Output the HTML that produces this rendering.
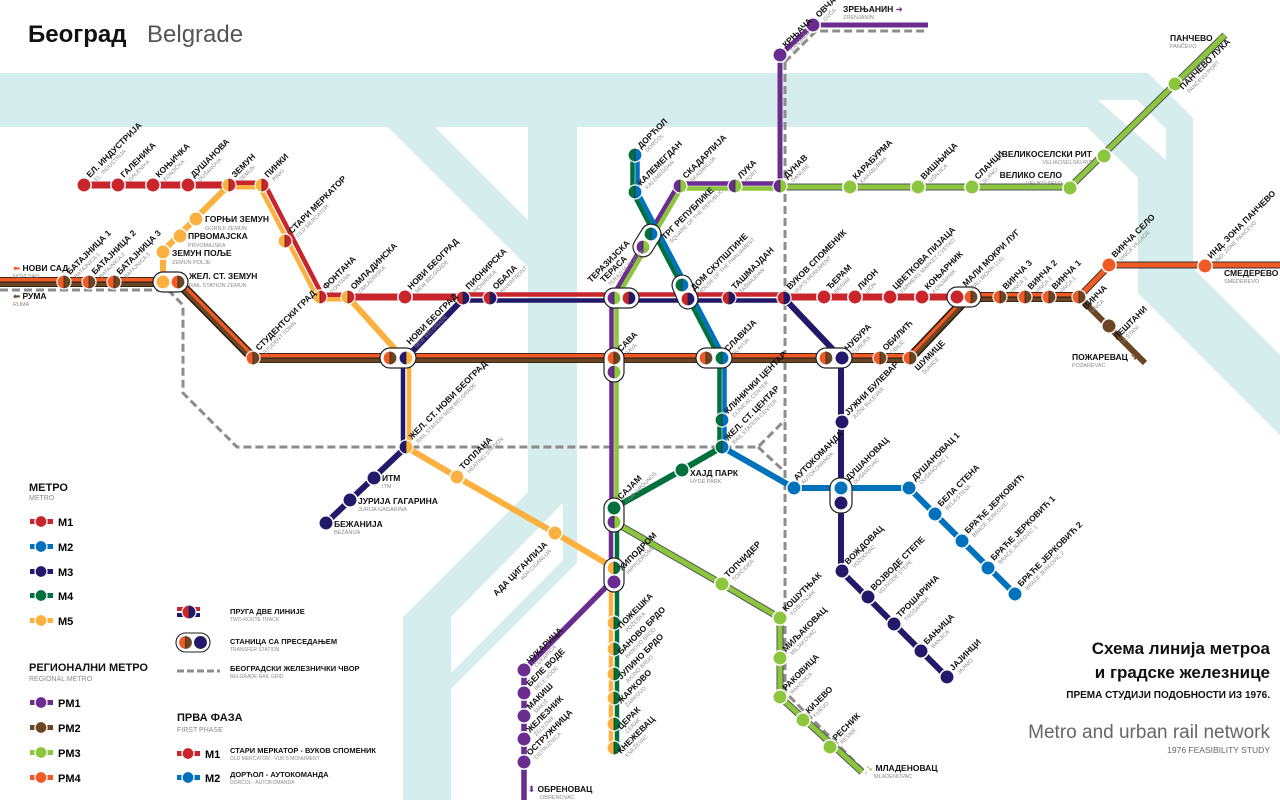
<!DOCTYPE html>
<html><head><meta charset="utf-8">
<style>
html,body{margin:0;padding:0;background:#fff}
svg{display:block}
text{font-family:"Liberation Sans","DejaVu Sans",sans-serif}
.n{font-size:8.5px;font-weight:bold;fill:#111}
.s{font-size:5.5px;fill:#8a8a8a}
.ln{fill:none;stroke-linejoin:round}
</style></head><body>
<svg width="1280" height="800" viewBox="0 0 1280 800" xmlns="http://www.w3.org/2000/svg">
<defs>
<g id="d"><circle r="7.6" fill="#fff"/><path d="M0,-6.4A6.4,6.4 0 0 0 0,6.4Z" style="fill:var(--a)"/><path d="M0,-6.4A6.4,6.4 0 0 1 0,6.4Z" style="fill:var(--b)"/><line y1="-6.4" y2="6.4" stroke="#222" stroke-width=".7"/></g>
<g id="c"><circle r="7.2" style="fill:var(--a)" stroke="#fff" stroke-width="1.5"/></g>
</defs>

<!-- water -->
<g fill="#d5eded">
<polygon points="0,73 1148,73 1193,118 1193,268 1280,355 1280,435 1138,293 1138,178 1087,127 0,127"/>
<polygon points="388,127 435,127 528,220 528,267"/>
<polygon points="528,127 577,127 577,563 451,689 451,800 403,800 403,617 528,492"/>
</g>
<g fill="#fff">
<polygon points="451,617 563,503 563,560 451,673"/>
<polygon points="1098,100 1137,100 1166,129 1166,160"/>
</g>

<!-- title -->
<text x="28" y="42" style="font-size:24px;font-weight:bold;fill:#111">Београд</text>
<text x="147" y="42" style="font-size:24px;fill:#555">Belgrade</text>

<!-- gray rail -->
<g class="ln" stroke="#8c8c8c" stroke-width="3" stroke-dasharray="8,4">
<path d="M0,290H168L183,305V393L237,447H758L785,420"/>
<path d="M758,447L785,472"/>
<path d="M785,62V692L866,773"/>
<path d="M785,62L816,31H928"/>
</g>

<!-- PM2/PM4 -->
<g class="ln">
<path d="M0,282H178L253,358H910L968,297H1079" stroke="#2b1d12" stroke-width="10"/>
<path d="M0,282H178L253,358H910L968,297H1079" transform="translate(0,-2.3)" stroke="#f15a24" stroke-width="3.6"/>
<path d="M0,282H178L253,358H910L968,297H1079" transform="translate(0,2.4)" stroke="#6b4524" stroke-width="3.6"/>
<path d="M1079,297L1110,265H1280" stroke="#333" stroke-width="7"/>
<path d="M1079,297L1110,265H1280" stroke="#f15a24" stroke-width="5"/>
<path d="M1079,297L1145,363" stroke="#6b4524" stroke-width="6"/>
</g>

<!-- PM3 singles -->
<g class="ln">
<path d="M1225,35L1070,187H780" stroke="#555" stroke-width="7"/>
<path d="M1225,35L1070,187H780" stroke="#8cc63e" stroke-width="5"/>
<path d="M614,522L722,584L780,618V697L862,772" stroke="#555" stroke-width="7"/>
<path d="M614,522L722,584L780,618V697L862,772" stroke="#8cc63e" stroke-width="5"/>
</g>

<!-- PM1 -->
<g class="ln" stroke="#6a2c8f">
<path d="M928,25H813L780,55V186" stroke-width="5"/>
<path d="M611,582L524,670V800" stroke-width="5.5"/>
<path d="M611,522V582" stroke-width="4.5"/>
</g>
<!-- PM1+PM3 shared -->
<g class="ln">
<path d="M680,183.5H780" stroke="#6a2c8f" stroke-width="4.5"/>
<path d="M680,188.5H780" stroke="#8cc63e" stroke-width="4.5"/>
<path d="M680,186L614,298V522" transform="translate(-2.5,0)" stroke="#6a2c8f" stroke-width="4.5"/>
<path d="M680,186L614,298V522" transform="translate(2.5,0)" stroke="#8cc63e" stroke-width="4.5"/>
</g>

<!-- M4 / M2 -->
<g class="ln">
<path d="M635,155V192L722,358V447" transform="translate(-2.5,0)" stroke="#00703c" stroke-width="4.5"/>
<path d="M635,155V192L722,358V447" transform="translate(2.5,0)" stroke="#0072bc" stroke-width="4.5"/>
<path d="M722,447L682,470L614,508" stroke="#00703c" stroke-width="6"/>
<path d="M617,508V752" stroke="#00703c" stroke-width="4.5"/>
<path d="M722,447L794,488H909L1015,594" stroke="#0072bc" stroke-width="6"/>
</g>

<!-- M5 -->
<g class="ln" stroke="#fbb040">
<path d="M229,185L163,251V282" stroke-width="6"/>
<path d="M348,297L403,358" stroke-width="6"/>
<path d="M409,358V447" stroke-width="4.5"/>
<path d="M406,447L457,477L555,533L614,568" stroke-width="6"/>
<path d="M611,568V752" stroke-width="4.5"/>
<path d="M229,185H262L320,297H348" transform="translate(-2,2.3)" stroke-width="4.5"/>
</g>

<!-- M3 -->
<g class="ln" stroke="#22196a">
<path d="M462,300L406,358" stroke-width="6"/>
<path d="M403,358V447" stroke-width="4.5"/>
<path d="M406,447L326,523" stroke-width="6"/>
<path d="M462,300.5H784" stroke-width="4.5"/>
<path d="M784,298L841,358V571L947,677" stroke-width="6"/>
</g>

<!-- M1 -->
<g class="ln" stroke="#c8252d">
<path d="M84,185H229" stroke-width="7"/>
<path d="M229,185H262L320,297H348" transform="translate(2,-2.3)" stroke-width="4.5"/>
<path d="M348,297H462" stroke-width="7"/>
<path d="M462,294.5H784" stroke-width="4.5"/>
<path d="M784,297H957" stroke-width="7"/>
</g>

<!-- transfer pills -->
<g fill="#fff" stroke="#222" stroke-width="1.2">
<rect x="153" y="272" width="35" height="20" rx="10"/>
<rect x="380" y="348" width="36" height="20" rx="10"/>
<rect x="604" y="288" width="35" height="20" rx="10"/>
<rect x="604" y="348" width="20" height="34" rx="10"/>
<rect x="696" y="348" width="36" height="20" rx="10"/>
<rect x="816" y="348" width="36" height="20" rx="10"/>
<rect x="947" y="287" width="34" height="20" rx="10"/>
<rect x="604" y="498" width="20" height="34" rx="10"/>
<rect x="604" y="558" width="20" height="34" rx="10"/>
<rect x="830" y="478" width="22" height="35" rx="10"/>
<rect x="629.5" y="230.5" width="35" height="20" rx="10" transform="rotate(122 647 240.5)"/>
<rect x="667.5" y="282" width="35" height="20" rx="10" transform="rotate(67 685 292)"/>
</g>

<!-- stations -->
<g>
<use href="#c" x="84" y="185" style="--a:#c8252d"/>
<use href="#c" x="118" y="185" style="--a:#c8252d"/>
<use href="#c" x="153" y="185" style="--a:#c8252d"/>
<use href="#c" x="188" y="185" style="--a:#c8252d"/>
<use href="#c" x="405" y="297" style="--a:#c8252d"/>
<use href="#c" x="824" y="297" style="--a:#c8252d"/>
<use href="#c" x="855" y="297" style="--a:#c8252d"/>
<use href="#c" x="890" y="297" style="--a:#c8252d"/>
<use href="#c" x="922" y="297" style="--a:#c8252d"/>
<use href="#c" x="957" y="297" style="--a:#c8252d"/>
<use href="#d" x="229" y="185" style="--a:#fbb040;--b:#c8252d"/>
<use href="#d" x="262" y="185" style="--a:#fbb040;--b:#c8252d"/>
<use href="#d" x="285" y="241" style="--a:#fbb040;--b:#c8252d"/>
<use href="#d" x="320" y="297" style="--a:#fbb040;--b:#c8252d"/>
<use href="#d" x="348" y="297" style="--a:#fbb040;--b:#c8252d"/>
<use href="#c" x="196" y="219" style="--a:#fbb040"/>
<use href="#c" x="180" y="236" style="--a:#fbb040"/>
<use href="#c" x="163" y="252" style="--a:#fbb040"/>
<use href="#c" x="163" y="282" style="--a:#fbb040"/>
<use href="#c" x="457" y="477" style="--a:#fbb040"/>
<use href="#c" x="555" y="533" style="--a:#fbb040"/>
<use href="#d" x="463" y="298" style="--a:#c8252d;--b:#22196a"/>
<use href="#d" x="490" y="298" style="--a:#c8252d;--b:#22196a"/>
<use href="#d" x="629" y="298" style="--a:#c8252d;--b:#22196a"/>
<use href="#d" x="688" y="299" style="--a:#c8252d;--b:#22196a"/>
<use href="#d" x="729" y="298" style="--a:#c8252d;--b:#22196a"/>
<use href="#d" x="784" y="298" style="--a:#c8252d;--b:#22196a"/>
<use href="#d" x="614" y="298" style="--a:#6a2c8f;--b:#8cc63e"/>
<use href="#d" x="614" y="372" style="--a:#6a2c8f;--b:#8cc63e"/>
<use href="#d" x="614" y="522" style="--a:#6a2c8f;--b:#8cc63e"/>
<use href="#d" x="643" y="247" style="--a:#6a2c8f;--b:#8cc63e"/>
<use href="#d" x="680" y="186" style="--a:#6a2c8f;--b:#8cc63e"/>
<use href="#d" x="735" y="186" style="--a:#6a2c8f;--b:#8cc63e"/>
<use href="#d" x="780" y="186" style="--a:#6a2c8f;--b:#8cc63e"/>
<use href="#d" x="635" y="155" style="--a:#00703c;--b:#0072bc"/>
<use href="#d" x="635" y="192" style="--a:#00703c;--b:#0072bc"/>
<use href="#d" x="651" y="234" style="--a:#00703c;--b:#0072bc"/>
<use href="#d" x="682" y="285" style="--a:#00703c;--b:#0072bc"/>
<use href="#d" x="722" y="358" style="--a:#00703c;--b:#0072bc"/>
<use href="#d" x="722" y="420" style="--a:#00703c;--b:#0072bc"/>
<use href="#d" x="722" y="447" style="--a:#00703c;--b:#0072bc"/>
<use href="#d" x="64" y="282" style="--a:#f15a24;--b:#6b4524"/>
<use href="#d" x="89" y="282" style="--a:#f15a24;--b:#6b4524"/>
<use href="#d" x="114" y="282" style="--a:#f15a24;--b:#6b4524"/>
<use href="#d" x="178" y="282" style="--a:#f15a24;--b:#6b4524"/>
<use href="#d" x="253" y="358" style="--a:#f15a24;--b:#6b4524"/>
<use href="#d" x="390" y="358" style="--a:#f15a24;--b:#6b4524"/>
<use href="#d" x="614" y="358" style="--a:#f15a24;--b:#6b4524"/>
<use href="#d" x="706" y="358" style="--a:#f15a24;--b:#6b4524"/>
<use href="#d" x="826" y="358" style="--a:#f15a24;--b:#6b4524"/>
<use href="#d" x="880" y="358" style="--a:#f15a24;--b:#6b4524"/>
<use href="#d" x="910" y="358" style="--a:#f15a24;--b:#6b4524"/>
<use href="#d" x="971" y="297" style="--a:#f15a24;--b:#6b4524"/>
<use href="#d" x="1000" y="297" style="--a:#f15a24;--b:#6b4524"/>
<use href="#d" x="1025" y="297" style="--a:#f15a24;--b:#6b4524"/>
<use href="#d" x="1049" y="297" style="--a:#f15a24;--b:#6b4524"/>
<use href="#d" x="1079" y="297" style="--a:#f15a24;--b:#6b4524"/>
<use href="#c" x="1109" y="265" style="--a:#f15a24"/>
<use href="#c" x="1205" y="266" style="--a:#f15a24"/>
<use href="#c" x="1109" y="326" style="--a:#6b4524"/>
<use href="#d" x="406" y="358" style="--a:#22196a;--b:#fbb040"/>
<use href="#d" x="406" y="447" style="--a:#22196a;--b:#fbb040"/>
<use href="#c" x="374" y="478" style="--a:#22196a"/>
<use href="#c" x="350" y="500" style="--a:#22196a"/>
<use href="#c" x="326" y="523" style="--a:#22196a"/>
<use href="#c" x="842" y="358" style="--a:#22196a"/>
<use href="#c" x="842" y="422" style="--a:#22196a"/>
<use href="#c" x="841" y="503" style="--a:#22196a"/>
<use href="#c" x="842" y="571" style="--a:#22196a"/>
<use href="#c" x="868" y="597" style="--a:#22196a"/>
<use href="#c" x="894" y="624" style="--a:#22196a"/>
<use href="#c" x="921" y="651" style="--a:#22196a"/>
<use href="#c" x="947" y="677" style="--a:#22196a"/>
<use href="#c" x="794" y="488" style="--a:#0072bc"/>
<use href="#c" x="841" y="488" style="--a:#0072bc"/>
<use href="#c" x="909" y="488" style="--a:#0072bc"/>
<use href="#c" x="935" y="514" style="--a:#0072bc"/>
<use href="#c" x="962" y="541" style="--a:#0072bc"/>
<use href="#c" x="988" y="568" style="--a:#0072bc"/>
<use href="#c" x="1015" y="594" style="--a:#0072bc"/>
<use href="#c" x="682" y="470" style="--a:#00703c"/>
<use href="#c" x="614" y="508" style="--a:#00703c"/>
<use href="#d" x="614" y="568" style="--a:#fbb040;--b:#00703c"/>
<use href="#d" x="614" y="623" style="--a:#fbb040;--b:#00703c"/>
<use href="#d" x="614" y="649" style="--a:#fbb040;--b:#00703c"/>
<use href="#d" x="614" y="674" style="--a:#fbb040;--b:#00703c"/>
<use href="#d" x="614" y="698" style="--a:#fbb040;--b:#00703c"/>
<use href="#d" x="614" y="724" style="--a:#fbb040;--b:#00703c"/>
<use href="#d" x="614" y="748" style="--a:#fbb040;--b:#00703c"/>
<use href="#c" x="614" y="582" style="--a:#6a2c8f"/>
<use href="#c" x="780" y="55" style="--a:#6a2c8f"/>
<use href="#c" x="813" y="25" style="--a:#6a2c8f"/>
<use href="#c" x="524" y="670" style="--a:#6a2c8f"/>
<use href="#c" x="524" y="693" style="--a:#6a2c8f"/>
<use href="#c" x="524" y="716" style="--a:#6a2c8f"/>
<use href="#c" x="524" y="739" style="--a:#6a2c8f"/>
<use href="#c" x="524" y="762" style="--a:#6a2c8f"/>
<use href="#c" x="850" y="187" style="--a:#8cc63e"/>
<use href="#c" x="918" y="187" style="--a:#8cc63e"/>
<use href="#c" x="972" y="187" style="--a:#8cc63e"/>
<use href="#c" x="1070" y="188" style="--a:#8cc63e"/>
<use href="#c" x="1104" y="156" style="--a:#8cc63e"/>
<use href="#c" x="1175" y="84" style="--a:#8cc63e"/>
<use href="#c" x="722" y="584" style="--a:#8cc63e"/>
<use href="#c" x="780" y="618" style="--a:#8cc63e"/>
<use href="#c" x="780" y="658" style="--a:#8cc63e"/>
<use href="#c" x="780" y="697" style="--a:#8cc63e"/>
<use href="#c" x="803" y="720" style="--a:#8cc63e"/>
<use href="#c" x="830" y="747" style="--a:#8cc63e"/>
</g>

<!-- rotated labels -->
<g>
<g transform="translate(90,178) rotate(-45)"><text class="n">ЕЛ. ИНДУСТРИЈА</text><text class="s" x="2" y="7">EL. INDUSTRIJA</text></g>
<g transform="translate(124,178) rotate(-45)"><text class="n">ГАЛЕНИКА</text><text class="s" x="2" y="7">GALENIKA</text></g>
<g transform="translate(159,178) rotate(-45)"><text class="n">КОЊИЧКА</text><text class="s" x="2" y="7">KONJIČKA</text></g>
<g transform="translate(194,178) rotate(-45)"><text class="n">ДУШАНОВА</text><text class="s" x="2" y="7">DUŠANOVA</text></g>
<g transform="translate(235,178) rotate(-45)"><text class="n">ЗЕМУН</text><text class="s" x="2" y="7">ZEMUN</text></g>
<g transform="translate(268,178) rotate(-45)"><text class="n">ПИНКИ</text><text class="s" x="2" y="7">PINKI</text></g>
<g transform="translate(292,234) rotate(-45)"><text class="n">СТАРИ МЕРКАТОР</text><text class="s" x="2" y="7">OLD MERCATOR</text></g>
<g transform="translate(326,290) rotate(-45)"><text class="n">ФОНТАНА</text><text class="s" x="2" y="7">FONTANA</text></g>
<g transform="translate(354,290) rotate(-45)"><text class="n">ОМЛАДИНСКА</text><text class="s" x="2" y="7">OMLADINSKA</text></g>
<g transform="translate(411,290) rotate(-45)"><text class="n">НОВИ БЕОГРАД</text><text class="s" x="2" y="7">NEW BELGRADE</text></g>
<g transform="translate(469,290) rotate(-45)"><text class="n">ПИОНИРСКА</text><text class="s" x="2" y="7">PIONIRSKA</text></g>
<g transform="translate(496,290) rotate(-45)"><text class="n">ОБАЛА</text><text class="s" x="2" y="7">RIVERFRONT</text></g>
<g transform="translate(591,283) rotate(-45)"><text class="n">ТЕРАЗИЈСКА</text><text class="n" x="9" y="9">ТЕРАСА</text><text class="s" x="11" y="16">TERAZIJE PLATEAU</text></g>
<g transform="translate(694,291) rotate(-45)"><text class="n">ДОМ СКУПШТИНЕ</text><text class="s" x="2" y="7">HOUSE OF THE PARLIAMENT</text></g>
<g transform="translate(735,290) rotate(-45)"><text class="n">ТАШМАЈДАН</text><text class="s" x="2" y="7">TAŠMAJDAN</text></g>
<g transform="translate(790,290) rotate(-45)"><text class="n">ВУКОВ СПОМЕНИК</text><text class="s" x="2" y="7">VUK'S MONUMENT</text></g>
<g transform="translate(830,290) rotate(-45)"><text class="n">ЂЕРАМ</text><text class="s" x="2" y="7">ĐERAM</text></g>
<g transform="translate(861,290) rotate(-45)"><text class="n">ЛИОН</text><text class="s" x="2" y="7">LION</text></g>
<g transform="translate(896,290) rotate(-45)"><text class="n">ЦВЕТКОВА ПИЈАЦА</text><text class="s" x="2" y="7">FARMERS MARKET CVETKO</text></g>
<g transform="translate(928,290) rotate(-45)"><text class="n">КОЊАРНИК</text><text class="s" x="2" y="7">KONJARNIK</text></g>
<g transform="translate(966,287) rotate(-45)"><text class="n">МАЛИ МОКРИ ЛУГ</text><text class="s" x="2" y="7">MALI MOKRI LUG</text></g>
<g transform="translate(1006,290) rotate(-45)"><text class="n">ВИНЧА 3</text><text class="s" x="2" y="7">VINČA 3</text></g>
<g transform="translate(1031,290) rotate(-45)"><text class="n">ВИНЧА 2</text><text class="s" x="2" y="7">VINČA 2</text></g>
<g transform="translate(1055,290) rotate(-45)"><text class="n">ВИНЧА 1</text><text class="s" x="2" y="7">VINČA 1</text></g>
<g transform="translate(1086,310) rotate(-45)"><text class="n">ВИНЧА</text><text class="s" x="2" y="7">VINČA</text></g>
<g transform="translate(1115,258) rotate(-45)"><text class="n">ВИНЧА СЕЛО</text><text class="s" x="2" y="7">VINČA VILLAGE</text></g>
<g transform="translate(1211,259) rotate(-45)"><text class="n">ИНД. ЗОНА ПАНЧЕВО</text><text class="s" x="2" y="7">IND. ZONE PANČEVO</text></g>
<g transform="translate(1117,340) rotate(-45)"><text class="n">ЛЕШТАНИ</text><text class="s" x="2" y="7">LEŠTANI</text></g>
<g transform="translate(70,275) rotate(-45)"><text class="n">БАТАЈНИЦА 1</text><text class="s" x="2" y="7">BATAJNICA 1</text></g>
<g transform="translate(95,275) rotate(-45)"><text class="n">БАТАЈНИЦА 2</text><text class="s" x="2" y="7">BATAJNICA 2</text></g>
<g transform="translate(120,275) rotate(-45)"><text class="n">БАТАЈНИЦА 3</text><text class="s" x="2" y="7">BATAJNICA 3</text></g>
<g transform="translate(259,351) rotate(-45)"><text class="n">СТУДЕНТСКИ ГРАД</text><text class="s" x="2" y="7">STUDENT TOWN</text></g>
<g transform="translate(410,345) rotate(-45)"><text class="n">НОВИ БЕОГРАД</text><text class="s" x="2" y="7">NEW BELGRADE</text></g>
<g transform="translate(412,440) rotate(-45)"><text class="n">ЖЕЛ. СТ. НОВИ БЕОГРАД</text><text class="s" x="2" y="7">RAIL STATION NEW BELGRADE</text></g>
<g transform="translate(463,470) rotate(-45)"><text class="n">ТОПЛАНА</text><text class="s" x="2" y="7">HEATING STATION</text></g>
<g transform="translate(548,545) rotate(-45)"><text class="n" text-anchor="end">АДА ЦИГАНЛИЈА</text><text class="s" x="-2" y="7" text-anchor="end">ADA CIGANLIJA</text></g>
<g transform="translate(622,571) rotate(-45)"><text class="n">ХИПОДРОМ</text><text class="s" x="2" y="7">HIPPODROME</text></g>
<g transform="translate(621,629) rotate(-45)"><text class="n">ПОЖЕШКА</text><text class="s" x="2" y="7">POŽEŠKA</text></g>
<g transform="translate(621,655) rotate(-45)"><text class="n">БАНОВО БРДО</text><text class="s" x="2" y="7">BANOVO BRDO</text></g>
<g transform="translate(621,680) rotate(-45)"><text class="n">ЈУЛИНО БРДО</text><text class="s" x="2" y="7">JULINO BRDO</text></g>
<g transform="translate(621,704) rotate(-45)"><text class="n">ЖАРКОВО</text><text class="s" x="2" y="7">ŽARKOVO</text></g>
<g transform="translate(621,730) rotate(-45)"><text class="n">ЦЕРАК</text><text class="s" x="2" y="7">CERAK</text></g>
<g transform="translate(621,754) rotate(-45)"><text class="n">КНЕЖЕВАЦ</text><text class="s" x="2" y="7">KNEŽEVAC</text></g>
<g transform="translate(621,500) rotate(-45)"><text class="n">САЈАМ</text><text class="s" x="2" y="7">FAIR GROUNDS</text></g>
<g transform="translate(621,352) rotate(-45)"><text class="n">САВА</text><text class="s" x="2" y="7">SAVA</text></g>
<g transform="translate(641,149) rotate(-45)"><text class="n">ДОРЋОЛ</text><text class="s" x="2" y="7">DORĆOL</text></g>
<g transform="translate(641,186) rotate(-45)"><text class="n">КАЛЕМЕГДАН</text><text class="s" x="2" y="7">KALEMEGDAN</text></g>
<g transform="translate(665,240) rotate(-45)"><text class="n">ТРГ РЕПУБЛИКЕ</text><text class="s" x="2" y="7">SQUARE OF THE REPUBLIC</text></g>
<g transform="translate(686,179) rotate(-45)"><text class="n">СКАДАРЛИЈА</text><text class="s" x="2" y="7">SKADARLIJA</text></g>
<g transform="translate(741,179) rotate(-45)"><text class="n">ЛУКА</text><text class="s" x="2" y="7">PORT</text></g>
<g transform="translate(787,179) rotate(-45)"><text class="n">ДУНАВ</text><text class="s" x="2" y="7">DANUBE</text></g>
<g transform="translate(856,180) rotate(-45)"><text class="n">КАРАБУРМА</text><text class="s" x="2" y="7">KARABURMA</text></g>
<g transform="translate(924,180) rotate(-45)"><text class="n">ВИШЊИЦА</text><text class="s" x="2" y="7">VIŠNJICA</text></g>
<g transform="translate(978,180) rotate(-45)"><text class="n">СЛАНЦИ</text><text class="s" x="2" y="7">SLANCI</text></g>
<g transform="translate(1183,90) rotate(-45)"><text class="n">ПАНЧЕВО ЛУКА</text><text class="s" x="2" y="7">PANČEVO PORT</text></g>
<g transform="translate(786,48) rotate(-45)"><text class="n">КРЊАЧА</text><text class="s" x="2" y="7">KRNJAČA</text></g>
<g transform="translate(819,18) rotate(-45)"><text class="n">ОВЧА</text><text class="s" x="2" y="7">OVČA</text></g>
<g transform="translate(728,352) rotate(-45)"><text class="n">СЛАВИЈА</text><text class="s" x="2" y="7">SLAVIJA</text></g>
<g transform="translate(728,414) rotate(-45)"><text class="n">КЛИНИЧКИ ЦЕНТАР</text><text class="s" x="2" y="7">CLINICAL CENTER</text></g>
<g transform="translate(728,441) rotate(-45)"><text class="n">ЖЕЛ. СТ. ЦЕНТАР</text><text class="s" x="2" y="7">RAIL STATION CENTER</text></g>
<g transform="translate(797,481) rotate(-45)"><text class="n">АУТОКОМАНДА</text><text class="s" x="2" y="7">AUTOKOMANDA</text></g>
<g transform="translate(849,481) rotate(-45)"><text class="n">ДУШАНОВАЦ</text><text class="s" x="2" y="7">DUŠANOVAC</text></g>
<g transform="translate(915,481) rotate(-45)"><text class="n">ДУШАНОВАЦ 1</text><text class="s" x="2" y="7">DUŠANOVAC 1</text></g>
<g transform="translate(941,507) rotate(-45)"><text class="n">БЕЛА СТЕНА</text><text class="s" x="2" y="7">BELA STENA</text></g>
<g transform="translate(968,534) rotate(-45)"><text class="n">БРАЋЕ ЈЕРКОВИЋ</text><text class="s" x="2" y="7">BRAĆE JERKOVIĆ</text></g>
<g transform="translate(994,561) rotate(-45)"><text class="n">БРАЋЕ ЈЕРКОВИЋ 1</text><text class="s" x="2" y="7">BRAĆE JERKOVIĆ 1</text></g>
<g transform="translate(1021,587) rotate(-45)"><text class="n">БРАЋЕ ЈЕРКОВИЋ 2</text><text class="s" x="2" y="7">BRAĆE JERKOVIĆ 2</text></g>
<g transform="translate(848,351) rotate(-45)"><text class="n">ЧУБУРА</text><text class="s" x="2" y="7">ČUBURA</text></g>
<g transform="translate(886,351) rotate(-45)"><text class="n">ОБИЛИЋ</text><text class="s" x="2" y="7">OBILIĆ</text></g>
<g transform="translate(918,371) rotate(-45)"><text class="n">ШУМИЦЕ</text><text class="s" x="2" y="7">ŠUMICE</text></g>
<g transform="translate(848,416) rotate(-45)"><text class="n">ЈУЖНИ БУЛЕВАР</text><text class="s" x="2" y="7">JUŽNI BULEVAR</text></g>
<g transform="translate(848,565) rotate(-45)"><text class="n">ВОЖДОВАЦ</text><text class="s" x="2" y="7">VOŽDOVAC</text></g>
<g transform="translate(874,591) rotate(-45)"><text class="n">ВОЈВОДЕ СТЕПЕ</text><text class="s" x="2" y="7">VOJVODE STEPE</text></g>
<g transform="translate(900,618) rotate(-45)"><text class="n">ТРОШАРИНА</text><text class="s" x="2" y="7">TROŠARINA</text></g>
<g transform="translate(927,645) rotate(-45)"><text class="n">БАЊИЦА</text><text class="s" x="2" y="7">BANJICA</text></g>
<g transform="translate(953,671) rotate(-45)"><text class="n">ЈАЈИНЦИ</text><text class="s" x="2" y="7">JAJINCI</text></g>
<g transform="translate(728,578) rotate(-45)"><text class="n">ТОПЧИДЕР</text><text class="s" x="2" y="7">TOPČIDER</text></g>
<g transform="translate(786,612) rotate(-45)"><text class="n">КОШУТЊАК</text><text class="s" x="2" y="7">KOŠUTNJAK</text></g>
<g transform="translate(786,652) rotate(-45)"><text class="n">МИЉАКОВАЦ</text><text class="s" x="2" y="7">MILJAKOVAC</text></g>
<g transform="translate(786,691) rotate(-45)"><text class="n">РАКОВИЦА</text><text class="s" x="2" y="7">RAKOVICA</text></g>
<g transform="translate(809,714) rotate(-45)"><text class="n">КИЈЕВО</text><text class="s" x="2" y="7">KIJEVO</text></g>
<g transform="translate(836,741) rotate(-45)"><text class="n">РЕСНИК</text><text class="s" x="2" y="7">RESNIK</text></g>
<g transform="translate(530,664) rotate(-45)"><text class="n">ЧУКАРИЦА</text><text class="s" x="2" y="7">ČUKARICA</text></g>
<g transform="translate(530,687) rotate(-45)"><text class="n">БЕЛЕ ВОДЕ</text><text class="s" x="2" y="7">BELE VODE</text></g>
<g transform="translate(530,710) rotate(-45)"><text class="n">МАКИШ</text><text class="s" x="2" y="7">MAKIŠ</text></g>
<g transform="translate(530,733) rotate(-45)"><text class="n">ЖЕЛЕЗНИК</text><text class="s" x="2" y="7">ŽELEZNIK</text></g>
<g transform="translate(530,756) rotate(-45)"><text class="n">ОСТРУЖНИЦА</text><text class="s" x="2" y="7">OSTRUŽNICA</text></g>
</g>

<!-- horizontal labels -->
<g>
<text class="n" x="205" y="222">ГОРЊИ ЗЕМУН</text><text class="s" x="205" y="230">GORNJI ZEMUN</text>
<text class="n" x="188" y="239">ПРВОМАЈСКА</text><text class="s" x="188" y="247">PRVOMAJSKA</text>
<text class="n" x="172" y="256">ЗЕМУН ПОЉЕ</text><text class="s" x="172" y="264">ZEMUN POLJE</text>
<text class="n" x="189" y="279">ЖЕЛ. СТ. ЗЕМУН</text><text class="s" x="189" y="287">RAIL STATION ZEMUN</text>
<text class="n" x="13" y="271"><tspan fill="#f15a24">⬅</tspan> НОВИ САД</text><text class="s" x="13" y="278">NOVI SAD</text>
<text class="n" x="13" y="299"><tspan fill="#6b4524">⬅</tspan> РУМА</text><text class="s" x="13" y="306">RUMA</text>
<text class="n" x="382" y="481">ИТМ</text><text class="s" x="382" y="488">ITM</text>
<text class="n" x="358" y="504">ЈУРИЈА ГАГАРИНА</text><text class="s" x="358" y="511">JURIJA GAGARINA</text>
<text class="n" x="334" y="527">БЕЖАНИЈА</text><text class="s" x="334" y="534">BEŽANIJA</text>
<text class="n" x="690" y="476">ХАЈД ПАРК</text><text class="s" x="690" y="483">HYDE PARK</text>
<text class="n" x="1062" y="178" text-anchor="end">ВЕЛИКО СЕЛО</text><text class="s" x="1062" y="185" text-anchor="end">VELIKO SELO</text>
<text class="n" x="1092" y="157" text-anchor="end">ВЕЛИКОСЕЛСКИ РИТ</text><text class="s" x="1092" y="164" text-anchor="end">VELIKOSELSKI RIT</text>
<text class="n" x="1170" y="41">ПАНЧЕВО <tspan fill="#8cc63e">➚</tspan></text><text class="s" x="1170" y="48">PANČEVO</text>
<text class="n" x="1224" y="276">СМЕДЕРЕВО <tspan fill="#f15a24">➜</tspan></text><text class="s" x="1224" y="283">SMEDEREVO</text>
<text class="n" x="1072" y="360">ПОЖАРЕВАЦ <tspan fill="#6b4524">➘</tspan></text><text class="s" x="1072" y="367">POŽAREVAC</text>
<text class="n" x="843" y="12">ЗРЕЊАНИН <tspan fill="#6a2c8f">➜</tspan></text><text class="s" x="843" y="19">ZRENJANIN</text>
<text class="n" x="528" y="792"><tspan fill="#6a2c8f">⬇</tspan> ОБРЕНОВАЦ</text><text class="s" x="540" y="799">OBRENOVAC</text>
<text class="n" x="866" y="771"><tspan fill="#8cc63e">➘</tspan> МЛАДЕНОВАЦ</text><text class="s" x="874" y="778">MLADENOVAC</text>
</g>

<!-- legend -->
<g>
<text x="29" y="491" style="font-size:11px;font-weight:bold;fill:#111">МЕТРО</text>
<text x="29" y="500" class="s" style="font-size:7px">METRO</text>
<rect x="30" y="519" width="23" height="5" fill="#c8252d"/><circle cx="41" cy="521.5" r="6" fill="#c8252d" stroke="#fff" stroke-width="1.3"/><text x="58" y="526" style="font-size:11px;font-weight:bold">M1</text>
<rect x="30" y="544" width="23" height="5" fill="#0072bc"/><circle cx="41" cy="546.5" r="6" fill="#0072bc" stroke="#fff" stroke-width="1.3"/><text x="58" y="551" style="font-size:11px;font-weight:bold">M2</text>
<rect x="30" y="569" width="23" height="5" fill="#22196a"/><circle cx="41" cy="571.5" r="6" fill="#22196a" stroke="#fff" stroke-width="1.3"/><text x="58" y="576" style="font-size:11px;font-weight:bold">M3</text>
<rect x="30" y="593" width="23" height="5" fill="#00703c"/><circle cx="41" cy="595.5" r="6" fill="#00703c" stroke="#fff" stroke-width="1.3"/><text x="58" y="600" style="font-size:11px;font-weight:bold">M4</text>
<rect x="30" y="618" width="23" height="5" fill="#fbb040"/><circle cx="41" cy="620.5" r="6" fill="#fbb040" stroke="#fff" stroke-width="1.3"/><text x="58" y="625" style="font-size:11px;font-weight:bold">M5</text>
<text x="29" y="671" style="font-size:11px;font-weight:bold;fill:#111">РЕГИОНАЛНИ МЕТРО</text>
<text x="29" y="681" class="s" style="font-size:7px">REGIONAL METRO</text>
<rect x="30" y="700" width="23" height="5" fill="#6a2c8f"/><circle cx="41" cy="702.5" r="6" fill="#6a2c8f" stroke="#fff" stroke-width="1.3"/><text x="58" y="707" style="font-size:11px;font-weight:bold">PM1</text>
<rect x="30" y="725" width="23" height="5" fill="#6b4524"/><circle cx="41" cy="727.5" r="6" fill="#6b4524" stroke="#fff" stroke-width="1.3"/><text x="58" y="732" style="font-size:11px;font-weight:bold">PM2</text>
<rect x="30" y="750" width="23" height="5" fill="#8cc63e"/><circle cx="41" cy="752.5" r="6" fill="#8cc63e" stroke="#fff" stroke-width="1.3"/><text x="58" y="757" style="font-size:11px;font-weight:bold">PM3</text>
<rect x="30" y="775" width="23" height="5" fill="#f15a24"/><circle cx="41" cy="777.5" r="6" fill="#f15a24" stroke="#fff" stroke-width="1.3"/><text x="58" y="782" style="font-size:11px;font-weight:bold">PM4</text>

<rect x="177" y="607" width="23" height="4" fill="#c8252d"/><rect x="177" y="613" width="23" height="4" fill="#22196a"/>
<use href="#d" x="189" y="612" style="--a:#c8252d;--b:#22196a"/>
<text class="n" x="230" y="614" style="font-size:7.5px">ПРУГА ДВЕ ЛИНИЈЕ</text><text class="s" x="230" y="621" style="font-size:5px">TWO-ROUTE TRACK</text>
<rect x="176" y="633" width="34" height="19" rx="9.5" fill="#fff" stroke="#222" stroke-width="1.1"/>
<use href="#d" x="185.5" y="642.5" style="--a:#f15a24;--b:#6b4524"/>
<use href="#c" x="200.5" y="642.5" style="--a:#22196a"/>
<text class="n" x="230" y="644" style="font-size:7.5px">СТАНИЦА СА ПРЕСЕДАЊЕМ</text><text class="s" x="230" y="651" style="font-size:5px">TRANSFER STATION</text>
<path d="M177,671H220" stroke="#8c8c8c" stroke-width="3" stroke-dasharray="7,3"/>
<text class="n" x="230" y="671" style="font-size:7.5px">БЕОГРАДСКИ ЖЕЛЕЗНИЧКИ ЧВОР</text><text class="s" x="230" y="678" style="font-size:5px">BELGRADE RAIL GRID</text>
<text x="177" y="721" style="font-size:11px;font-weight:bold;fill:#111">ПРВА ФАЗА</text>
<text x="177" y="732" class="s" style="font-size:7px">FIRST PHASE</text>
<rect x="177" y="751" width="23" height="5" fill="#c8252d"/><circle cx="188" cy="753.5" r="6" fill="#c8252d" stroke="#fff" stroke-width="1.3"/><text x="205" y="758" style="font-size:11px;font-weight:bold">M1</text>
<text class="n" x="230" y="753" style="font-size:7.5px">СТАРИ МЕРКАТОР - ВУКОВ СПОМЕНИК</text><text class="s" x="230" y="760" style="font-size:5px">OLD MERCATOR - VUK'S MONUMENT</text>
<rect x="177" y="775" width="23" height="5" fill="#0072bc"/><circle cx="188" cy="777.5" r="6" fill="#0072bc" stroke="#fff" stroke-width="1.3"/><text x="205" y="782" style="font-size:11px;font-weight:bold">M2</text>
<text class="n" x="230" y="777" style="font-size:7.5px">ДОРЋОЛ - АУТОКОМАНДА</text><text class="s" x="230" y="784" style="font-size:5px">DORĆOL - AUTOKOMANDA</text>
</g>

<!-- bottom-right title -->
<g text-anchor="end">
<text x="1270" y="654" style="font-size:17px;font-weight:bold;fill:#111">Схема линија метроа</text>
<text x="1270" y="678" style="font-size:17px;font-weight:bold;fill:#111">и градске  железнице</text>
<text x="1270" y="698" style="font-size:10px;font-weight:bold;fill:#111">ПРЕМА СТУДИЈИ ПОДОБНОСТИ ИЗ 1976.</text>
<text x="1270" y="738" style="font-size:19px;fill:#666">Metro and urban rail network</text>
<text x="1270" y="753" style="font-size:8.5px;fill:#666">1976 FEASIBILITY STUDY</text>
</g>
</svg>
</body></html>
